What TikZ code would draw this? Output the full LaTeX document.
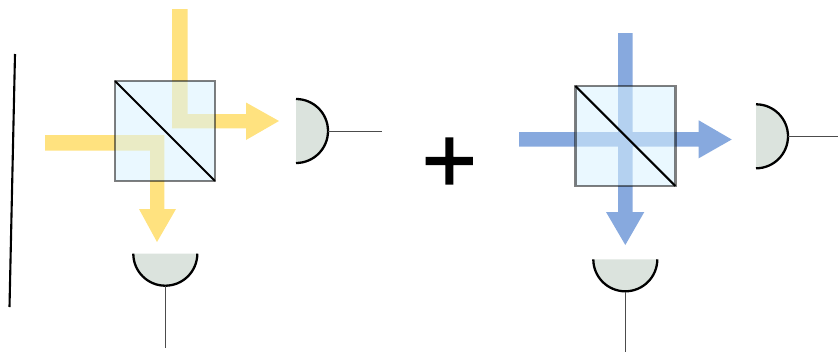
\documentclass[tikz,border=0pt]{standalone}
\usepackage{fontspec}
\newfontfamily\plusfont[FakeBold=3]{DejaVu Sans}
\definecolor{beamyellow}{HTML}{FFE27F}
\definecolor{beamblue}{HTML}{87A9DE}
\definecolor{cubefill}{HTML}{D9F3FF}
\definecolor{detfill}{HTML}{DBE3DD}
\tikzset{
  cube/.style={draw=black, draw opacity=0.5, fill=cubefill, fill opacity=0.55, line width=1.5pt, minimum size=2cm, inner sep=0pt, outer sep=0pt},
  splitter/.style={draw=black, line width=1.2pt},
  detbody/.style={fill=detfill},
  detrim/.style={draw=black, line width=1.3pt},
  lead/.style={draw=black!70, line width=0.7pt}
}
\begin{document}
\begin{tikzpicture}[x=0.02cm, y=-0.02cm]
\useasboundingbox (0,0) rectangle (838,352);
\draw[black, line width=1.2pt] (15,54) -- (9.5,307);
\fill[beamyellow] (172,9) -- (187.7,9) -- (187.7,114) -- (246,114) -- (246,102.5) -- (279,121) -- (246,140) -- (246,128.3) -- (172,128.3) -- cycle;
\fill[beamyellow] (45,135) -- (164.3,135) -- (164.3,209) -- (176,209) -- (157,242) -- (139,209) -- (150,209) -- (150,150.7) -- (45,150.7) -- cycle;
\node[cube] (cubea) at (165,131) {};
\draw[splitter] (cubea.north west) -- (cubea.south east);
\fill[detbody] (296,99) arc[start angle=-90, end angle=90, radius=32] -- cycle;
\draw[detrim] (296,99) arc[start angle=-90, end angle=90, radius=32];
\fill[detbody] (133.3,253.7) arc[start angle=180, end angle=0, radius=32] -- cycle;
\draw[detrim] (133.3,253.7) arc[start angle=180, end angle=0, radius=32];
\coordinate (deta) at (328,131.5);
\coordinate (enda) at (381.7,131.5);
\coordinate (detb) at (165.3,286);
\coordinate (endb) at (165.3,348);
\draw[lead] (deta) -- (enda);
\draw[lead] (detb) -- (endb);
\node[font=\plusfont\fontsize{41}{41}\selectfont, inner sep=0pt] (plus) at (449.3,161) {+};
\fill[beamblue] (618,33) -- (632.7,33) -- (632.7,212) -- (644.3,212) -- (625.3,245) -- (606,212) -- (618,212) -- cycle;
\fill[beamblue] (519,132) -- (698.7,132) -- (698.7,120.3) -- (731.7,139.5) -- (698.7,158.3) -- (698.7,146.7) -- (519,146.7) -- cycle;
\node[cube] (cubeb) at (625.3,136) {};
\draw[splitter] (cubeb.north west) -- (cubeb.south east);
\fill[detbody] (756,104.3) arc[start angle=-90, end angle=90, radius=32] -- cycle;
\draw[detrim] (756,104.3) arc[start angle=-90, end angle=90, radius=32];
\fill[detbody] (593.3,259.3) arc[start angle=180, end angle=0, radius=32] -- cycle;
\draw[detrim] (593.3,259.3) arc[start angle=180, end angle=0, radius=32];
\coordinate (detc) at (788,136.5);
\coordinate (endc) at (838,136.5);
\coordinate (detd) at (625.3,292);
\coordinate (endd) at (625.3,352);
\draw[lead] (detc) -- (endc);
\draw[lead] (detd) -- (endd);
\end{tikzpicture}
\end{document}
